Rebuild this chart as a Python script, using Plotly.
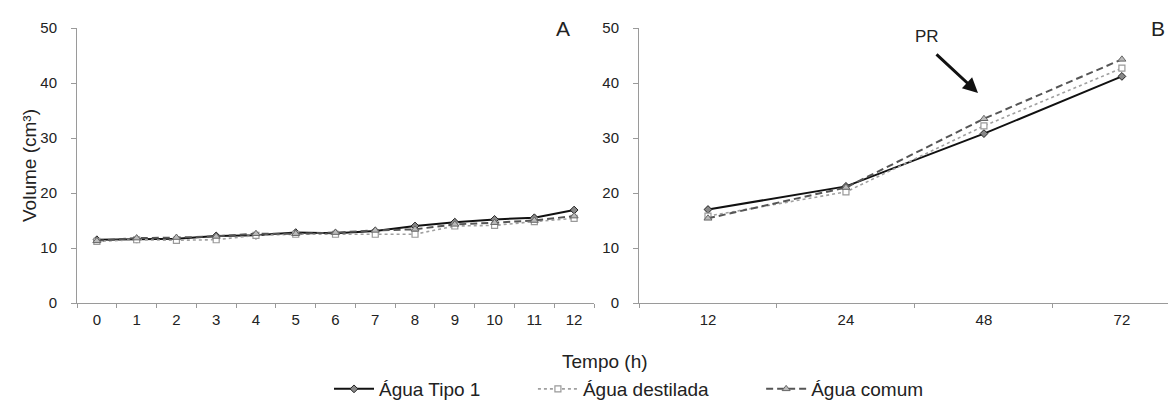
import plotly.graph_objects as go

hours_a = [str(h) for h in range(13)]
tipo1_a = [11.5, 11.6, 11.7, 12.2, 12.3, 12.8, 12.7, 13.1, 14.0, 14.7, 15.2, 15.5, 16.9]
destilada_a = [11.2, 11.5, 11.4, 11.5, 12.3, 12.5, 12.5, 12.5, 12.5, 14.0, 14.1, 14.8, 15.4]
comum_a = [11.3, 11.8, 11.9, 12.1, 12.6, 12.6, 12.8, 13.2, 13.4, 14.3, 14.6, 15.0, 15.8]

hours_b = ["12", "24", "48", "72"]
tipo1_b = [17.0, 21.2, 30.8, 41.2]
destilada_b = [15.8, 20.2, 32.2, 42.7]
comum_b = [15.4, 21.0, 33.5, 44.3]

y_ticks = [0, 10, 20, 30, 40, 50]
series_names = ["Água Tipo 1", "Água destilada", "Água comum"]

FAM = "Liberation Sans, Arial, sans-serif"
W, H = 1176, 400
PAD = "\u00a0" * 9

styles = [
    (dict(color="#111111", width=2, dash="solid"),
     dict(symbol="diamond", size=6, color="#888888", line=dict(color="#222222", width=1))),
    (dict(color="#a0a0a0", width=1.6, dash="3px,3px"),
     dict(symbol="square", size=6, color="white", line=dict(color="#999999", width=1.2))),
    (dict(color="#555555", width=2, dash="7px,4px"),
     dict(symbol="triangle-up", size=7, color="#bbbbbb", line=dict(color="#666666", width=1))),
]
data_a = [tipo1_a, destilada_a, comum_a]
data_b = [tipo1_b, destilada_b, comum_b]

fig = go.Figure()
for i, name in enumerate(series_names):
    line, marker = styles[i]
    label = name + (PAD if i < 2 else "")
    fig.add_trace(go.Scatter(x=hours_a, y=data_a[i], name=label, mode="lines+markers",
                             line=line, marker=marker, xaxis="x", yaxis="y",
                             legendgroup=name))
    fig.add_trace(go.Scatter(x=hours_b, y=data_b[i], name=label, mode="lines+markers",
                             line=line, marker=marker, xaxis="x2", yaxis="y2",
                             legendgroup=name, showlegend=False))

tickfont = dict(family=FAM, size=15, color="#222222")
common = dict(showline=True, linecolor="#9a9a9a", linewidth=1, showgrid=False,
              zeroline=False, ticks="outside", tickcolor="#9a9a9a",
              tickfont=tickfont, automargin=False)
xcommon = dict(type="category", tickson="boundaries", ticklen=4, ticklabelstandoff=3, **common)
ycommon = dict(range=[0, 50], tickvals=y_ticks, ticklen=5, ticklabelstandoff=11, **common)

ydom = [(H - 295) / H, (H - 20) / H]

fig.update_layout(
    width=W, height=H,
    margin=dict(l=0, r=0, t=0, b=0, autoexpand=False),
    paper_bgcolor="white", plot_bgcolor="white",
    font=dict(family=FAM, size=15, color="#222222"),
    xaxis=dict(domain=[69 / W, 586 / W], range=[-0.5, 12.5], anchor="y", **xcommon),
    yaxis=dict(domain=ydom, anchor="x", **ycommon),
    xaxis2=dict(domain=[631 / W, 1.0], range=[-0.5, 3.45], anchor="y2", **xcommon),
    yaxis2=dict(domain=ydom, anchor="x2", **ycommon),
    legend=dict(orientation="h", x=621 / W, xanchor="center", y=0.0, yanchor="bottom",
                font=dict(family=FAM, size=19, color="#222222"),
                itemwidth=40, tracegroupgap=0, bgcolor="rgba(0,0,0,0)"),
    showlegend=True,
)

def txt(s, x, y, size, **kw):
    fig.add_annotation(text=s, xref="paper", yref="paper", x=x / W, y=(H - y) / H,
                       xanchor="center", yanchor="middle",
                       showarrow=False, font=dict(size=size, family=FAM, color="#222222"), **kw)

txt("Volume (cm³)", 21, 158, 19, textangle=-90)
txt("Tempo (h)", 597, 353, 19)
txt("A", 555, 21, 21)
txt("B", 1150, 21, 21)

fig.add_annotation(text="PR", xref="x2", yref="y2", x=1.587, y=48.4,
                   xanchor="center", yanchor="middle",
                   showarrow=False, font=dict(size=17, family=FAM, color="#222222"))
fig.add_annotation(text="", xref="x2", yref="y2", x=1.957, y=38.2,
                   ax=-43, ay=-40, showarrow=True, arrowhead=2, arrowsize=1,
                   arrowwidth=3, arrowcolor="#111111")

fig.write_html("out.html")
